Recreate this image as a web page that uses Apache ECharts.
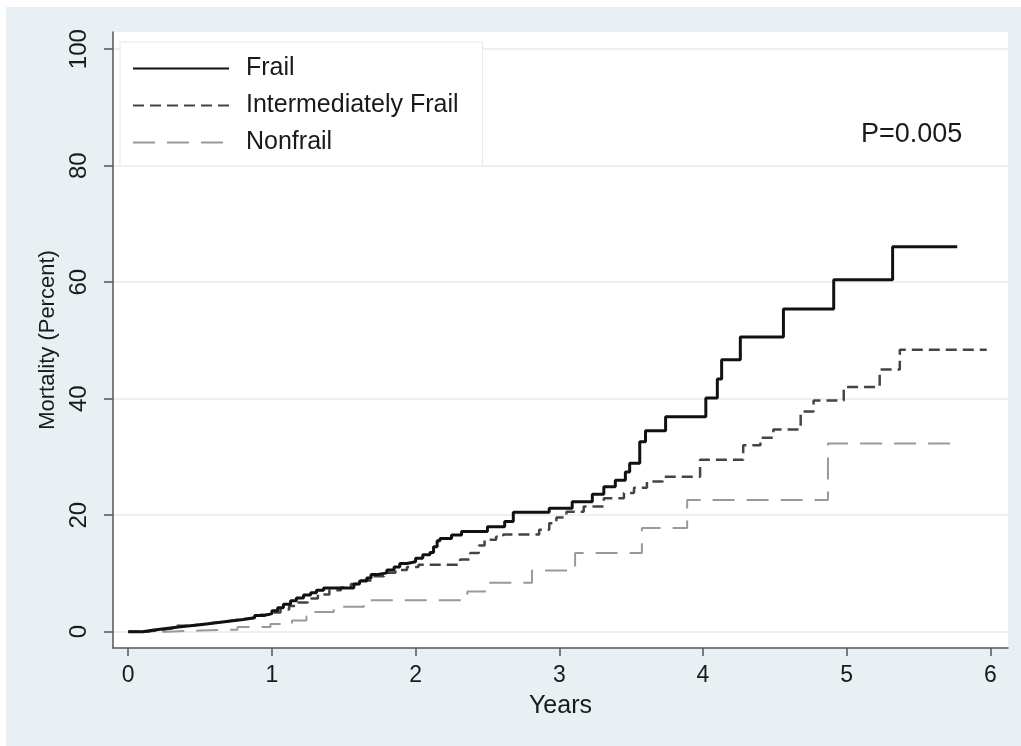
<!DOCTYPE html>
<html>
<head>
<meta charset="utf-8">
<script src="https://cdn.jsdelivr.net/npm/echarts@6/dist/echarts.min.js"></script>
<style>
  html, body { margin: 0; padding: 0; background: #fff; }
  #chart { width: 1021px; height: 746px; }
</style>
</head>
<body>
<div id="chart"></div>
<script>
// tick labels
var xTicks = [0, 1, 2, 3, 4, 5, 6]
var yTicks = [0, 20, 40, 60, 80, 100]

// Frail (years, percent)
var frailT = [0, 0.10, 0.18, 0.28, 0.38, 0.50, 0.60, 0.70, 0.80, 0.88, 0.95, 1.00, 1.04, 1.08, 1.13, 1.17, 1.22, 1.27, 1.31, 1.36,
    1.57, 1.61, 1.66, 1.69, 1.73, 1.80, 1.85, 1.89, 1.94, 2.00, 2.05, 2.10, 2.125, 2.15, 2.17, 2.25, 2.32, 2.50, 2.62, 2.68,
    2.93, 3.09, 3.23, 3.31, 3.39, 3.46, 3.49, 3.56, 3.60, 3.74, 4.02, 4.10, 4.13, 4.26, 4.56, 4.91, 5.32, 5.77]
var frailV = [0, 0.3, 0.6, 0.9, 1.2, 1.5, 1.8, 2.1, 2.4, 2.8, 3.1, 3.6, 4.1, 4.7, 5.3, 5.8, 6.3, 6.7, 7.1, 7.5,
    8.2, 8.7, 9.2, 9.8, 10.1, 10.6, 11.1, 11.7, 12.0, 12.6, 13.2, 13.6, 14.6, 15.6, 16.0, 16.6, 17.2, 18.0, 18.9, 20.5,
    21.2, 22.3, 23.6, 24.9, 26.0, 27.4, 28.9, 32.6, 34.5, 36.9, 40.1, 43.4, 46.7, 50.6, 55.4, 60.4, 66.1, 66.1]

// Intermediately Frail
var interT = [0, 0.12, 0.22, 0.32, 0.42, 0.52, 0.62, 0.72, 0.82, 0.92, 1.00, 1.06, 1.12, 1.18, 1.25, 1.32, 1.40, 1.48, 1.55, 1.62,
    1.70, 1.78, 1.86, 1.94, 2.02, 2.31, 2.38, 2.44, 2.48, 2.56, 2.61, 2.86, 2.93, 2.98, 3.05, 3.17, 3.31, 3.45, 3.52, 3.61,
    3.72, 3.98, 4.28, 4.40, 4.49, 4.68, 4.77, 4.98, 5.23, 5.37, 5.975]
var interV = [0, 0.3, 0.6, 1.0, 1.3, 1.6, 1.9, 2.2, 2.5, 2.9, 3.3, 3.8, 4.4, 5.0, 5.7, 6.4, 7.1, 7.6, 8.2, 8.8,
    9.5, 10.1, 10.6, 11.1, 11.5, 12.4, 13.5, 14.8, 15.8, 16.3, 16.7, 17.5, 18.6, 19.6, 20.6, 21.5, 22.9, 23.8, 24.7, 25.8,
    26.6, 29.5, 32.0, 33.3, 34.7, 37.8, 39.7, 42.0, 45.0, 48.4, 48.4]

// Nonfrail
var nonT = [0, 0.27, 0.50, 0.76, 0.99, 1.14, 1.24, 1.29, 1.43, 1.64, 2.36, 2.50, 2.81, 3.11, 3.575, 3.89, 4.87, 5.78]
var nonV = [0, 0.2, 0.35, 0.8, 1.3, 1.9, 2.6, 3.4, 4.3, 5.4, 6.9, 8.4, 10.5, 13.5, 17.8, 22.6, 32.3, 32.3]

var pText = 'P=0.005'

let pairs = (t, v) => t.map((x, i) => [x, v[i]])

var font = '"Liberation Sans", Arial, Helvetica, sans-serif'
var Chart = echarts.init(document.getElementById('chart'))
var option = {
    backgroundColor: '#e8f0f3',
    animation: false,
    grid: {
        left: 113,
        top: 32,
        right: 13,
        bottom: 98,
        show: true,
        backgroundColor: '#fff',
        borderWidth: 0
    },
    legend: {
        data: ['Frail', 'Intermediately Frail', 'Nonfrail'],
        orient: 'vertical',
        left: 120,
        top: 42,
        padding: [14, 24, 11, 12],
        backgroundColor: '#fff',
        borderColor: '#e3eaed',
        borderWidth: 1,
        itemWidth: 96,
        itemHeight: 14,
        itemGap: 12,
        // hide the marker circle, keep the line sample
        itemStyle: { color: 'rgba(0,0,0,0)', borderWidth: 0, opacity: 0 },
        textStyle: {
            fontFamily: font,
            fontSize: 25,
            lineHeight: 24,
            color: '#1a1a1a',
            padding: [0, 0, 0, 12]
        }
    },
    xAxis: {
        type: 'value',
        min: -0.106,
        max: 6.123,
        name: 'Years',
        nameLocation: 'middle',
        nameGap: 46,
        nameTextStyle: { fontFamily: font, fontSize: 25, color: '#1a1a1a' },
        axisLine: { onZero: false, lineStyle: { color: '#555', width: 1.5 } },
        axisTick: { length: 8, lineStyle: { color: '#555', width: 1.5 }, customValues: xTicks },
        axisLabel: { customValues: xTicks, margin: 16, fontFamily: font, fontSize: 23, color: '#1a1a1a' },
        splitLine: { show: false }
    },
    yAxis: {
        type: 'value',
        min: -2.8,
        max: 102.95,
        name: 'Mortality (Percent)',
        nameLocation: 'middle',
        nameGap: 50,
        nameTextStyle: { fontFamily: font, fontSize: 22, color: '#1a1a1a' },
        axisLine: { show: true, onZero: false, lineStyle: { color: '#555', width: 1.5 } },
        axisTick: { show: true, length: 9, lineStyle: { color: '#555', width: 1.5 }, customValues: yTicks },
        axisLabel: { customValues: yTicks, rotate: 90, margin: 22, fontFamily: font, fontSize: 24, color: '#1a1a1a' },
        splitLine: { show: true, lineStyle: { color: '#e3ecee', width: 1.5 } }
    },
    graphic: [
        { type: 'rect', left: 0, top: 0, shape: { width: 1021, height: 7 }, style: { fill: '#fff' }, silent: true },
        { type: 'rect', left: 0, top: 0, shape: { width: 6, height: 746 }, style: { fill: '#fff' }, silent: true },
        {
            type: 'text', left: 861, top: 121,
            style: { text: pText, fontFamily: font, fontSize: 27, fill: '#1a1a1a' }
        }
    ],
    series: [
        {
            name: 'Frail',
            type: 'line',
            step: 'end',
            symbol: 'none',
            data: pairs(frailT, frailV),
            lineStyle: { color: '#111', width: 3 },
            itemStyle: { color: '#111' },
            z: 5
        },
        {
            name: 'Intermediately Frail',
            type: 'line',
            step: 'end',
            symbol: 'none',
            data: pairs(interT, interV),
            lineStyle: { color: '#444', width: 2.5, type: [11, 6] },
            itemStyle: { color: '#444' },
            z: 4
        },
        {
            name: 'Nonfrail',
            type: 'line',
            step: 'end',
            symbol: 'none',
            data: pairs(nonT, nonV),
            lineStyle: { color: '#999', width: 2, type: [22, 12] },
            itemStyle: { color: '#999' },
            z: 3
        }
    ]
};
Chart.setOption(option)
</script>
</body>
</html>
